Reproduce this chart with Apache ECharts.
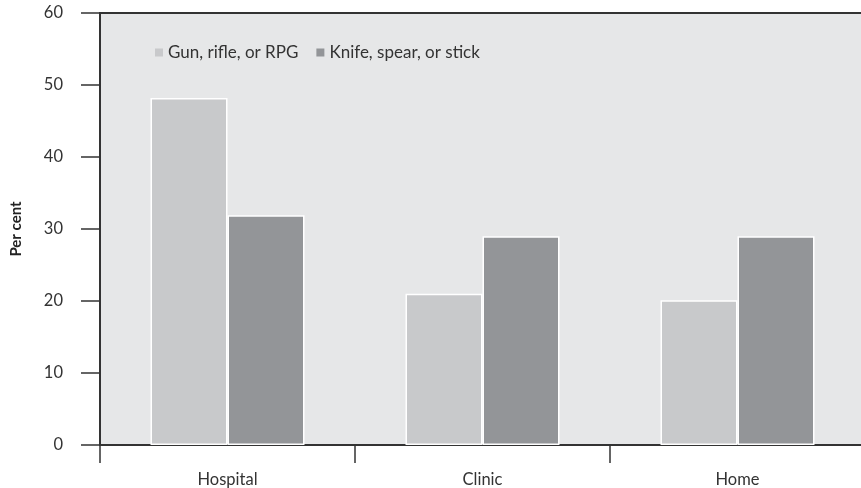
<!DOCTYPE html>
<html><head><meta charset="utf-8">
<script src="https://cdn.jsdelivr.net/npm/echarts@6/dist/echarts.min.js"></script>
<style>html,body{margin:0;padding:0;background:#fff}#c{width:861px;height:488px}</style>
</head><body><div id="c"></div>
<script>
const categories = ['Hospital', 'Clinic', 'Home'];
const gunValues = [48.2, 21.0, 20.1];
const knifeValues = [31.9, 29.0, 29.0];
const seriesNames = ['Gun, rifle, or RPG', 'Knife, spear, or stick'];
const yTicks = [0, 10, 20, 30, 40, 50, 60];

const font = 'Lato, "Open Sans", sans-serif';
const chart = echarts.init(document.getElementById('c'), null, {renderer: 'canvas'});
chart.setOption({
  animation: false,
  backgroundColor: '#fff',
  grid: {left: 100, right: -4, top: 13, bottom: 43, outerBoundsMode: 'none', containLabel: false,
         show: true, backgroundColor: '#e6e7e8', borderColor: '#333', borderWidth: 2},
  legend: {
    left: 150, top: 39, itemWidth: 8, itemHeight: 8, itemGap: 18, icon: 'rect',
    itemStyle: {borderWidth: 0},
    textStyle: {fontFamily: font, fontSize: 17, color: '#333'},
    data: seriesNames
  },
  xAxis: {
    type: 'category', data: categories,
    axisLine: {lineStyle: {color: '#333', width: 2}},
    axisTick: {show: true, length: 18, lineStyle: {color: '#333', width: 1.5}},
    axisLabel: {fontFamily: font, fontSize: 16.5, color: '#333', margin: 26}
  },
  yAxis: {
    type: 'value', min: yTicks[0], max: yTicks[yTicks.length - 1], interval: 10,
    name: 'Per cent', nameLocation: 'middle', nameGap: 76,
    nameTextStyle: {fontFamily: font, fontSize: 15, fontWeight: 'bold', color: '#222'},
    axisLine: {show: true, lineStyle: {color: '#333', width: 2}},
    axisTick: {show: true, length: 19, lineStyle: {color: '#333', width: 1.5}},
    axisLabel: {fontFamily: font, fontSize: 16.5, color: '#333', margin: 37},
    splitLine: {show: false}
  },
  series: [
    {name: seriesNames[0], type: 'bar', data: gunValues, barWidth: 77, barGap: '0%',
     itemStyle: {color: '#c8c9cb', borderColor: '#fff', borderWidth: 1.5}},
    {name: seriesNames[1], type: 'bar', data: knifeValues, barWidth: 77, barGap: '0%',
     itemStyle: {color: '#939598', borderColor: '#fff', borderWidth: 1.5}}
  ]
});
</script></body></html>
